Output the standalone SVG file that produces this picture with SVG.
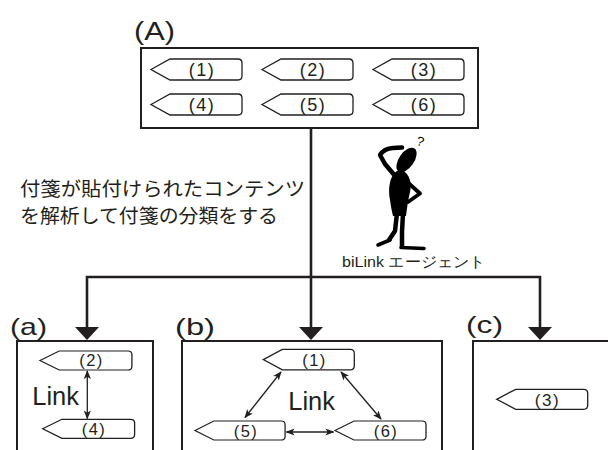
<svg xmlns="http://www.w3.org/2000/svg" width="608" height="450" viewBox="0 0 608 450">
  <style>
    .box { fill: #fff; stroke: #231f20; stroke-width: 2; }
    .tag { fill: #fff; stroke: #231f20; stroke-width: 1.3; }
    .tagtxt { font-family: "Liberation Sans", Arial, sans-serif; fill: #231f20; text-anchor: middle; }
    .label { font-family: "Liberation Sans", Arial, sans-serif; fill: #231f20; }
    .jp { font-family: "Noto Sans CJK JP", "Noto Sans", sans-serif; fill: #231f20; }
    .flow { fill: none; stroke: #231f20; stroke-width: 2.6; }
    .head { fill: #231f20; }
    .link { fill: none; stroke: #231f20; stroke-width: 1.3; }
    .body { fill: #000; }
    .limb { fill: none; stroke: #000; stroke-linecap: round; stroke-linejoin: round; }
  </style>
  <defs>
    <!-- sticky-note tag: pointed left end, rounded right end -->
    <path id="tagShape" d="M0,10 L19,0 L87,0 Q91,0 91,4 L91,16 Q91,20 87,20 L19,20 Z"/>
    <marker id="dbl" viewBox="0 0 10 10" refX="9" refY="5" markerWidth="9" markerHeight="9" orient="auto-start-reverse" markerUnits="userSpaceOnUse">
      <path d="M0,1 L10,5 L0,9 L2.5,5 Z" fill="#231f20"/>
    </marker>
  </defs>

  <!-- (A) container -->
  <g id="boxA">
    <text class="label" x="134" y="40" font-size="25" textLength="41" lengthAdjust="spacingAndGlyphs">(A)</text>
    <rect class="box" x="141" y="48" width="337" height="80"/>
  </g>

  <!-- (a), (b), (c) containers -->
  <g id="groupA">
    <text class="label" x="10" y="335" font-size="24" textLength="37" lengthAdjust="spacingAndGlyphs">(a)</text>
    <rect class="box" x="17" y="341" width="136" height="120"/>
    <text class="label" x="32.3" y="405" font-size="25" textLength="46.7" lengthAdjust="spacingAndGlyphs">Link</text>
  </g>
  <g id="groupB">
    <text class="label" x="175" y="335" font-size="24" textLength="40" lengthAdjust="spacingAndGlyphs">(b)</text>
    <rect class="box" x="182" y="341" width="260" height="120"/>
    <text class="label" x="288.3" y="410" font-size="25" textLength="46.7" lengthAdjust="spacingAndGlyphs">Link</text>
  </g>
  <g id="groupC">
    <text class="label" x="466" y="333" font-size="24" textLength="37" lengthAdjust="spacingAndGlyphs">(c)</text>
    <rect class="box" x="473" y="341" width="140" height="120"/>
  </g>

  <!-- description text -->
  <g id="caption">
    <text class="jp" x="20" y="196" font-size="19.5" textLength="285" lengthAdjust="spacingAndGlyphs">付箋が貼付けられたコンテンツ</text>
    <text class="jp" x="20" y="222.5" font-size="19.5" textLength="258" lengthAdjust="spacingAndGlyphs">を解析して付箋の分類をする</text>
  </g>

  <!-- agent figure -->
  <g id="agent">
    <text x="417" y="146" font-family="Liberation Sans, sans-serif" font-size="13" fill="#000" transform="rotate(15 421 141)">?</text>
    <ellipse class="body" cx="406.5" cy="160" rx="7.5" ry="14" transform="rotate(35 406.5 160)"/>
    <path class="limb" stroke-width="4.5" d="M396,177 L385,164 L380,155 Q384,148.5 393,148 L402,147.5"/>
    <path class="body" d="M397,171 C389,176 388,190 390,200 C391,207 392,212 393,216 L406,216 C407,208 408,200 410,192 C412,184 410,174 402,170 Z"/>
    <path class="limb" stroke-width="3.8" d="M405,180 L420,193.5 L408,202"/>
    <path class="limb" stroke-width="4.5" d="M397,213 L395,231 L389,240"/>
    <path class="limb" stroke-width="3.6" d="M390,240 L378,245"/>
    <path class="limb" stroke-width="4.5" d="M403,213 L402,232 L402,246"/>
    <path class="limb" stroke-width="3.6" d="M401,247.5 L424,248.5"/>
    <text class="label" x="342" y="266.5" font-size="15" textLength="143" lengthAdjust="spacingAndGlyphs">biLink エージェント</text>
  </g>

  <!-- connectors: flow from (A) to the three groups, and links inside groups -->
  <g id="connectors">
    <path class="flow" d="M311,128 V330"/>
    <path class="flow" d="M87,330 V277 H540 V330"/>
    <path class="head" d="M75,327 L99,327 L87,340 Z"/>
    <path class="head" d="M299,327 L323,327 L311,340 Z"/>
    <path class="head" d="M528,327 L552,327 L540,340 Z"/>
    <path class="link" marker-start="url(#dbl)" marker-end="url(#dbl)" d="M87.3,371 V418.5"/>
    <path class="link" marker-start="url(#dbl)" marker-end="url(#dbl)" d="M281,372 L245,417.5"/>
    <path class="link" marker-start="url(#dbl)" marker-end="url(#dbl)" d="M341,372 L381,419"/>
    <path class="link" marker-start="url(#dbl)" marker-end="url(#dbl)" d="M286.5,432 L333.5,432"/>
  </g>

  <!-- tags in (A) -->
  <g id="tag1"><use href="#tagShape" class="tag" transform="translate(151,59) scale(1,1.05)"/><text class="tagtxt" x="202" y="76" font-size="18" letter-spacing="1.5">(1)</text></g>
  <g id="tag2"><use href="#tagShape" class="tag" transform="translate(262,59) scale(1,1.05)"/><text class="tagtxt" x="313" y="76" font-size="18" letter-spacing="1.5">(2)</text></g>
  <g id="tag3"><use href="#tagShape" class="tag" transform="translate(373,59) scale(1,1.05)"/><text class="tagtxt" x="424" y="76" font-size="18" letter-spacing="1.5">(3)</text></g>
  <g id="tag4"><use href="#tagShape" class="tag" transform="translate(151,94) scale(1,1.05)"/><text class="tagtxt" x="202" y="111" font-size="18" letter-spacing="1.5">(4)</text></g>
  <g id="tag5"><use href="#tagShape" class="tag" transform="translate(262,94) scale(1,1.05)"/><text class="tagtxt" x="313" y="111" font-size="18" letter-spacing="1.5">(5)</text></g>
  <g id="tag6"><use href="#tagShape" class="tag" transform="translate(373,94) scale(1,1.05)"/><text class="tagtxt" x="424" y="111" font-size="18" letter-spacing="1.5">(6)</text></g>

  <!-- tags in (a) -->
  <g id="tagA2"><use href="#tagShape" class="tag" transform="translate(40,351) scale(1.01,0.95)"/><text class="tagtxt" x="91.5" y="366" font-size="16.5" letter-spacing="1.5">(2)</text></g>
  <g id="tagA4"><use href="#tagShape" class="tag" transform="translate(42.7,419.3) scale(1.01,0.95)"/><text class="tagtxt" x="94" y="434.5" font-size="16.5" letter-spacing="1.5">(4)</text></g>

  <!-- tags in (b) -->
  <g id="tagB1"><use href="#tagShape" class="tag" transform="translate(263.3,349.3) scale(1,1.03)"/><text class="tagtxt" x="314.5" y="366" font-size="16.5" letter-spacing="1.5">(1)</text></g>
  <g id="tagB5"><use href="#tagShape" class="tag" transform="translate(195,421) scale(0.99,0.95)"/><text class="tagtxt" x="246" y="436.5" font-size="16.5" letter-spacing="1.5">(5)</text></g>
  <g id="tagB6"><use href="#tagShape" class="tag" transform="translate(335,421) scale(1,0.95)"/><text class="tagtxt" x="386" y="436.5" font-size="16.5" letter-spacing="1.5">(6)</text></g>

  <!-- tag in (c) -->
  <g id="tagC3"><use href="#tagShape" class="tag" transform="translate(496.7,389.3)"/><text class="tagtxt" x="547.5" y="405.5" font-size="17" letter-spacing="1.5">(3)</text></g>
</svg>
